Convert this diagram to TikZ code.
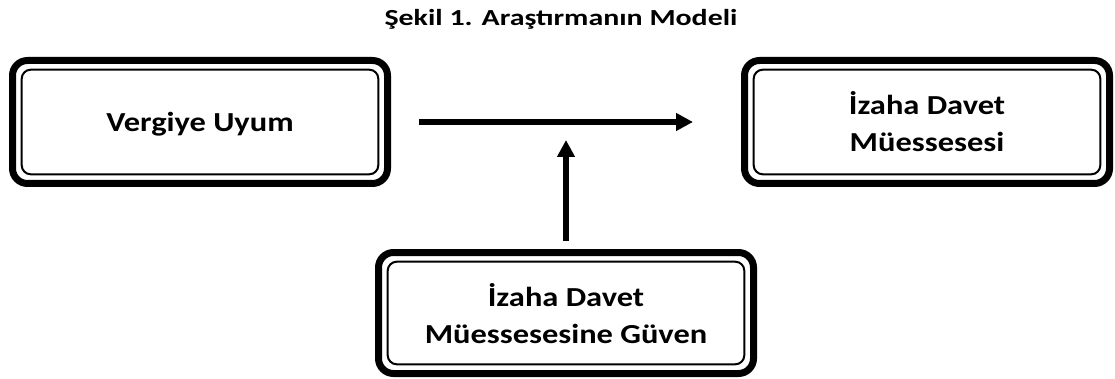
\documentclass[tikz,border=0pt]{standalone}
\usepackage{fontspec}
\setmainfont{Carlito}
\newfontfamily\boxfont{Carlito}[FakeStretch=1.18]
\newfontfamily\titlefont{Carlito}[FakeStretch=1.3]
\usetikzlibrary{arrows.meta}
\usetikzlibrary{positioning}

\tikzset{
	model/.style={draw, line width=7pt, rounded corners=15pt, minimum width=375pt, minimum height=123pt, inner sep=0pt, text depth=0pt, align=center, font=\boxfont\bfseries\fontsize{27.5}{37}\selectfont},
	inner line/.style={line width=2pt, rounded corners=9pt},
	link/.style={line width=5.8pt, -{Triangle[length=17pt,width=17pt]}}
}

\begin{document}
\begin{tikzpicture}[x=1pt,y=-1pt] % one unit is one pixel of the reference
	\useasboundingbox (0,0) rectangle (1115,379);
	
	% Title
	\node[anchor=base, font=\titlefont\bfseries\fontsize{23}{27}\selectfont] (title) at (561,26) {Şekil 1. Araştırmanın Modeli};
	
	% The three boxes
	\node[model] (uyum) at (200,122) {Vergiye Uyum};
	\node[model, minimum width=365pt] (davet) at (927,122) {İzaha Davet\\Müessesesi};
	\node[model, minimum height=121pt] (guven) at (566,313) {İzaha Davet\\Müessesesine Güven};
	
	% Thin inner frame of each box
	\foreach \n in {uyum,davet,guven}
		\draw[inner line] ([shift={(12.7,12.7)}]\n.north west) rectangle ([shift={(-12.7,-12.7)}]\n.south east);
	
	% Arrows
	\coordinate (meet) at (566,140);
	\draw[link] ([xshift=28pt]uyum.east) -- ([xshift=-48pt]davet.west);
	\draw[link] ([yshift=8pt]guven.north) -- (meet);
\end{tikzpicture}
\end{document}
